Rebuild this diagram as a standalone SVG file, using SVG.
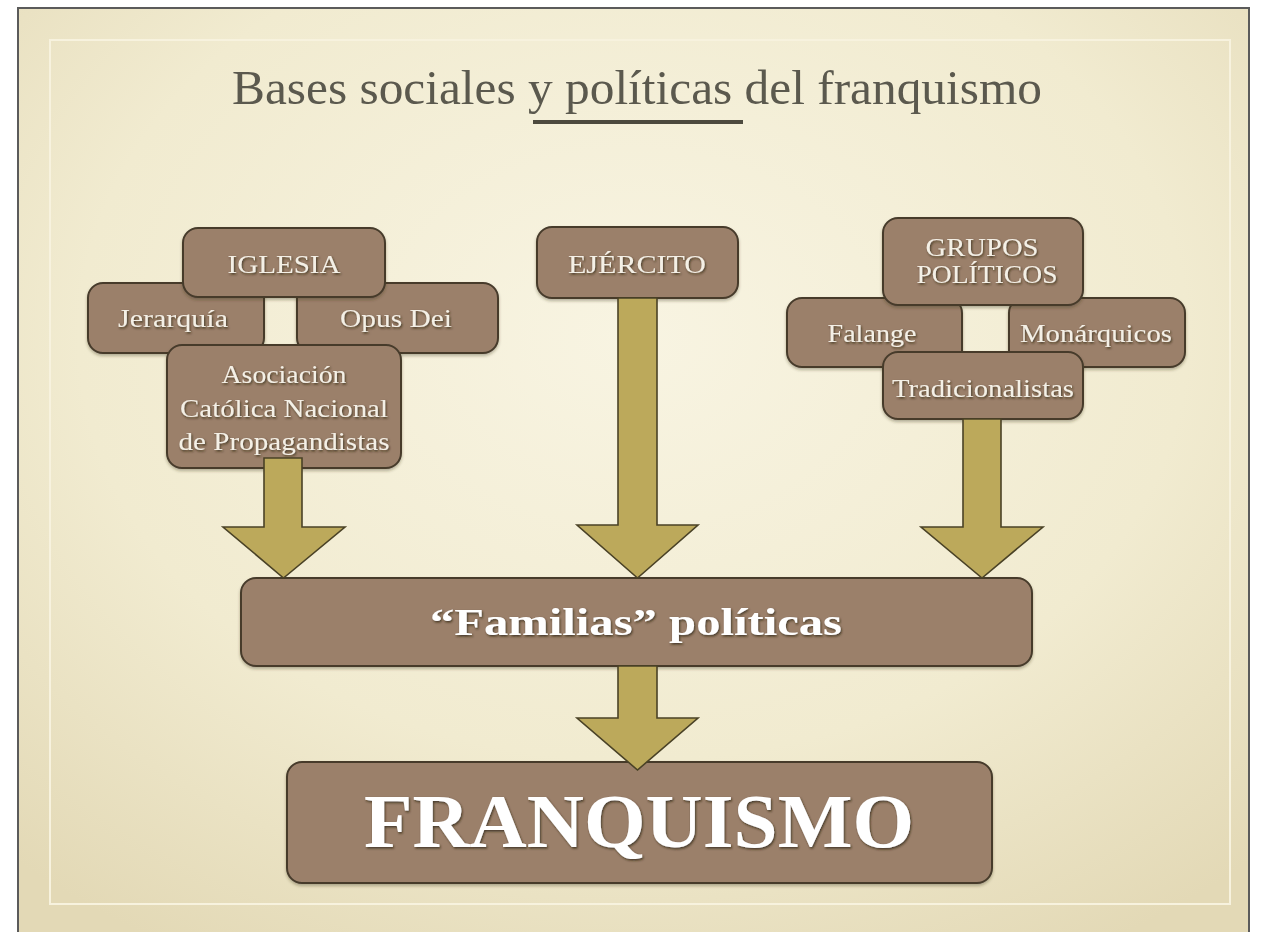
<svg xmlns="http://www.w3.org/2000/svg" width="1262" height="932" viewBox="0 0 1262 932">
<defs>
<radialGradient id="bg" cx="0.5" cy="0.35" r="0.75">
<stop offset="0" stop-color="#f8f4e2"/>
<stop offset="0.6" stop-color="#f1ebd0"/>
<stop offset="1" stop-color="#e3d9b6"/>
</radialGradient>
<filter id="ts" x="-10%" y="-30%" width="120%" height="160%">
<feDropShadow dx="1" dy="1.5" stdDeviation="0.8" flood-color="#2a2018" flood-opacity="0.75"/>
</filter>
<filter id="bs" x="-10%" y="-10%" width="120%" height="130%">
<feDropShadow dx="0" dy="2" stdDeviation="1.5" flood-color="#3a3020" flood-opacity="0.35"/>
</filter>
<style>
.box{fill:#9b806a;stroke:#463b2c;stroke-width:2;filter:url(#bs)}
.t{font-family:"Liberation Serif","Times New Roman",serif;fill:#f4f0e6;text-anchor:middle;font-size:26px;filter:url(#ts)}
.fam{font-weight:bold;fill:#ffffff;font-size:38px}
.fq{font-weight:bold;fill:#ffffff;font-size:76px}
.arr{fill:#bca95b;stroke:#4a4226;stroke-width:1.6;stroke-linejoin:miter}
</style>
</defs>
<rect x="0" y="0" width="1262" height="932" fill="#ffffff"/>
<rect x="18" y="8" width="1231" height="940" fill="url(#bg)" stroke="#5b5b5b" stroke-width="2"/>
<rect x="50" y="40" width="1180" height="864" fill="none" stroke="#f7f2de" stroke-width="2"/>
<g id="title">
<text x="637" y="104" font-family="'Liberation Serif','Times New Roman',serif" font-size="49" fill="#5b594e" text-anchor="middle" textLength="810" lengthAdjust="spacingAndGlyphs">Bases sociales y políticas del franquismo</text>
<rect x="533" y="120" width="210" height="4" fill="#4d4a3e"/>
</g>
<g id="iglesia-group">
<g id="jerarquia"><rect class="box" x="88" y="283" width="176" height="70" rx="15"/><text class="t" x="173" y="327" textLength="110" lengthAdjust="spacingAndGlyphs">Jerarquía</text></g>
<g id="opusdei"><rect class="box" x="297" y="283" width="201" height="70" rx="15"/><text class="t" x="396" y="327" textLength="112" lengthAdjust="spacingAndGlyphs">Opus Dei</text></g>
<g id="iglesia"><rect class="box" x="183" y="228" width="202" height="69" rx="15"/><text class="t" x="284" y="273" textLength="113" lengthAdjust="spacingAndGlyphs">IGLESIA</text></g>
<g id="acnp"><rect class="box" x="167" y="345" width="234" height="123" rx="15"/>
<text class="t" x="284" y="383" textLength="125" lengthAdjust="spacingAndGlyphs">Asociación</text>
<text class="t" x="284" y="417" textLength="208" lengthAdjust="spacingAndGlyphs">Católica Nacional</text>
<text class="t" x="284" y="450" textLength="211" lengthAdjust="spacingAndGlyphs">de Propagandistas</text></g>
</g>
<g id="ejercito"><rect class="box" x="537" y="227" width="201" height="71" rx="15"/><text class="t" x="637" y="273" textLength="138" lengthAdjust="spacingAndGlyphs">EJÉRCITO</text></g>
<g id="grupos-group">
<g id="falange"><rect class="box" x="787" y="298" width="175" height="69" rx="15"/><text class="t" x="872" y="342" textLength="89" lengthAdjust="spacingAndGlyphs">Falange</text></g>
<g id="monarquicos"><rect class="box" x="1009" y="298" width="176" height="69" rx="15"/><text class="t" x="1096" y="342" textLength="152" lengthAdjust="spacingAndGlyphs">Monárquicos</text></g>
<g id="grupos"><rect class="box" x="883" y="218" width="200" height="87" rx="15"/>
<text class="t" x="982" y="256" textLength="113" lengthAdjust="spacingAndGlyphs">GRUPOS</text>
<text class="t" x="987" y="283" textLength="141" lengthAdjust="spacingAndGlyphs">POLÍTICOS</text></g>
<g id="tradicionalistas"><rect class="box" x="883" y="352" width="200" height="67" rx="15"/><text class="t" x="983" y="397" textLength="182" lengthAdjust="spacingAndGlyphs">Tradicionalistas</text></g>
</g>
<g id="familias"><rect class="box" x="241" y="578" width="791" height="88" rx="15"/><text class="t fam" x="636" y="635" textLength="412" lengthAdjust="spacingAndGlyphs">“Familias” políticas</text></g>
<g id="franquismo"><rect class="box" x="287" y="762" width="705" height="121" rx="15"/><text class="t fq" x="639" y="847" textLength="550" lengthAdjust="spacingAndGlyphs">FRANQUISMO</text></g>
<g id="connectors">
<path class="arr" d="M264,458 V527 H223 L283.5,578 L345,527 H302 V458 Z"/>
<path class="arr" d="M618,298 V525 H577 L637.5,578 L698,525 H657 V298 Z"/>
<path class="arr" d="M963,419 V527 H921 L982,578 L1043,527 H1001 V419 Z"/>
<path class="arr" d="M618,666 V718 H577 L637.5,770 L698,718 H657 V666 Z"/>
</g>
</svg>
